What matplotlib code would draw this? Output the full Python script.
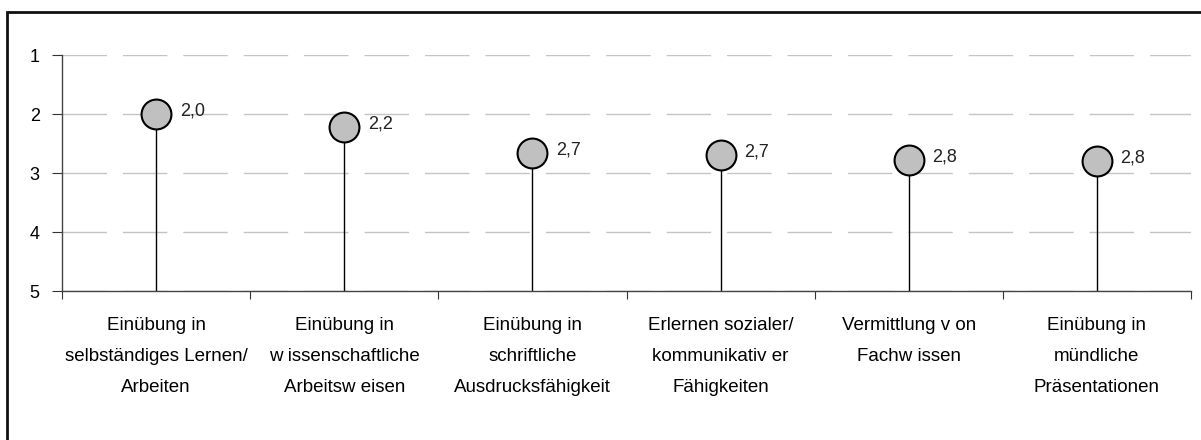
import matplotlib.pyplot as plt
from matplotlib.patches import Rectangle

# Category labels and mean ratings (1 = best, 5 = worst)
categories = [
    "Einübung in\nselbständiges Lernen/\nArbeiten",
    "Einübung in\nw issenschaftliche\nArbeitsw eisen",
    "Einübung in\nschriftliche\nAusdrucksfähigkeit",
    "Erlernen sozialer/\nkommunikativ er\nFähigkeiten",
    "Vermittlung v on\nFachw issen",
    "Einübung in\nmündliche\nPräsentationen",
]
values = [2.0, 2.22, 2.66, 2.69, 2.78, 2.79]
y_ticks = [1, 2, 3, 4, 5]

plt.rcParams["font.family"] = ["Liberation Sans", "DejaVu Sans"]

fig = plt.figure(figsize=(12.01, 4.40), dpi=100)

# Outer frame of the original chart (runs off the right and bottom edges)
fig.patches.append(Rectangle((7 / 1201, -0.1), 1.2, (440 - 12) / 440 + 0.1,
                             transform=fig.transFigure, fill=False,
                             edgecolor="#111111", linewidth=2))

ax = fig.add_axes([62 / 1201, (440 - 291) / 440, (1191 - 62) / 1201, 236 / 440])

n = len(categories)
x = [i + 0.5 for i in range(n)]

# Stems from the bottom of the scale up to the value
ax.vlines(x, 5, values, color="black", linewidth=1, zorder=2)
ax.plot(x, values, "o", markersize=21.5, markerfacecolor="#C0C0C0",
        markeredgecolor="black", markeredgewidth=1.5, zorder=3)

# Value labels right of each marker
for xi, v in zip(x, values):
    ax.annotate(f"{v:.1f}".replace(".", ","), (xi, v), xytext=(17, 2),
                textcoords="offset points", ha="left", va="center",
                fontsize=13, color="#222222")

ax.set_xlim(0, n)
ax.set_ylim(5, 1)
ax.set_yticks(y_ticks)
ax.set_yticklabels([str(t) for t in y_ticks], fontsize=13)
ax.yaxis.grid(True, color="#c4c4c4", linewidth=1, dashes=(32, 11.5))
ax.set_axisbelow(True)

# Major ticks at category boundaries, labels at centres
ax.set_xticks(range(n + 1))
ax.set_xticklabels([])
ax.set_xticks(x, minor=True)
ax.set_xticklabels(categories, minor=True, fontsize=13.5, linespacing=2.05)
ax.tick_params(axis="x", which="minor", length=0, pad=19)
ax.tick_params(axis="x", which="major", length=6, direction="out", color="#333333")
ax.tick_params(axis="y", length=7, direction="out", color="#333333", pad=9)

for side in ("top", "right"):
    ax.spines[side].set_visible(False)
for side in ("left", "bottom"):
    ax.spines[side].set_color("#444444")
    ax.spines[side].set_linewidth(1)

fig.savefig("out.png", dpi=100)
